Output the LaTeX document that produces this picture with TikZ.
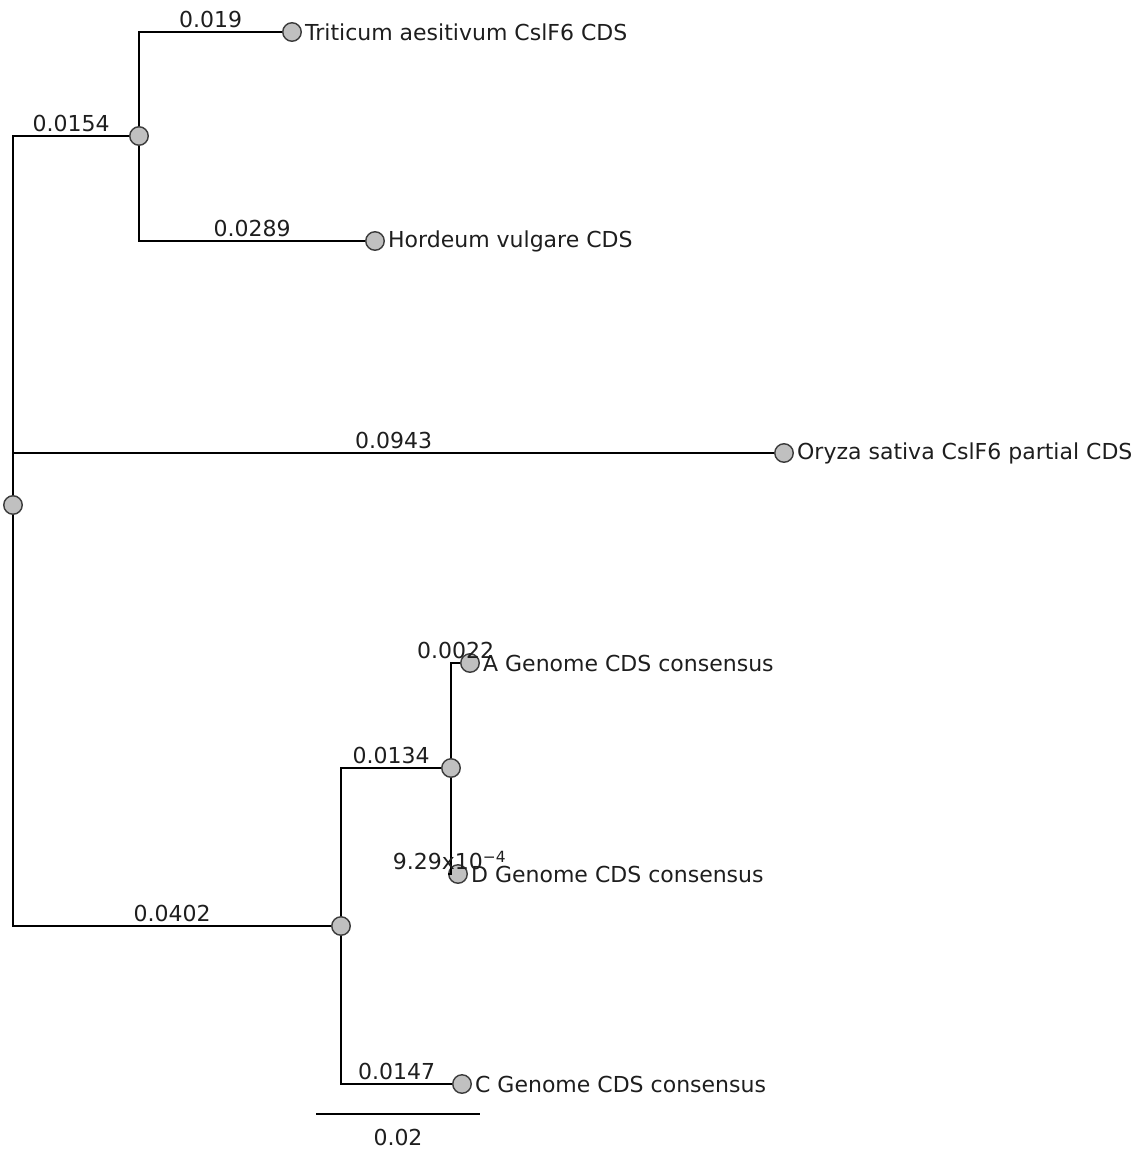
\documentclass[tikz,border=0pt]{standalone}
\usepackage{fontspec}
\setmainfont{DejaVu Sans}
\definecolor{nodegray}{RGB}{192,192,192}
\definecolor{nodeline}{RGB}{60,60,60}
\definecolor{textgray}{RGB}{30,30,30}
\newcommand{\treefont}{\fontsize{22}{26}\selectfont}
\begin{document}
\begin{tikzpicture}[x=1pt, y=-1pt,
  vert/.style={circle, draw=nodeline, fill=nodegray, line width=1.4pt, minimum size=18.5pt, inner sep=0pt},
  leaf/.style={vert, label={[font=\treefont, text=textgray, inner sep=3pt]right:#1}},
  blen/.style={above, font=\treefont, text=textgray, inner sep=3pt},
  branch/.style={line width=1.5pt}]
\useasboundingbox (0,0) rectangle (1142,1153);

% inner nodes
\node[vert] (root) at (13,505) {};
\node[vert] (tah) at (139,136) {};
\node[vert] (gen) at (341,926) {};
\node[vert] (adg) at (451,768) {};

% leaves
\node[leaf=Triticum aesitivum CslF6 CDS] (tri) at (292,32) {};
\node[leaf=Hordeum vulgare CDS] (hor) at (375,241) {};
\node[leaf=Oryza sativa CslF6 partial CDS] (ory) at (784,453) {};
\node[leaf=A Genome CDS consensus] (ag) at (470,663) {};
\node[leaf=D Genome CDS consensus] (dg) at (458,874) {};
\node[leaf=C Genome CDS consensus] (cg) at (462,1084) {};

% branches
\draw[branch] (root) |- node[blen, pos=0.75] {0.0154} (tah);
\draw[branch] (root) |- node[blen, pos=0.75] {0.0943} (ory);
\draw[branch] (root) |- node[blen, pos=0.75] {0.0402} (gen);
\draw[branch] (tah) |- node[blen, pos=0.75] {0.019} (tri);
\draw[branch] (tah) |- node[blen, pos=0.75] {0.0289} (hor);
\draw[branch] (gen) |- node[blen, pos=0.75] {0.0134} (adg);
\draw[branch] (gen) |- node[blen, pos=0.75] {0.0147} (cg);
\draw[branch] (adg) |- node[blen, pos=0.75] {0.0022} (ag);
\draw[branch] (adg) |- node[blen, pos=0.75] {9.29x10\textsuperscript{−4}} (dg);

% scale bar
\coordinate (sb1) at (316,1114);
\coordinate (sb2) at (480,1114);
\draw[branch] (sb1) -- node[below, font=\treefont, text=textgray, inner sep=14pt] {0.02} (sb2);
\end{tikzpicture}
\end{document}
